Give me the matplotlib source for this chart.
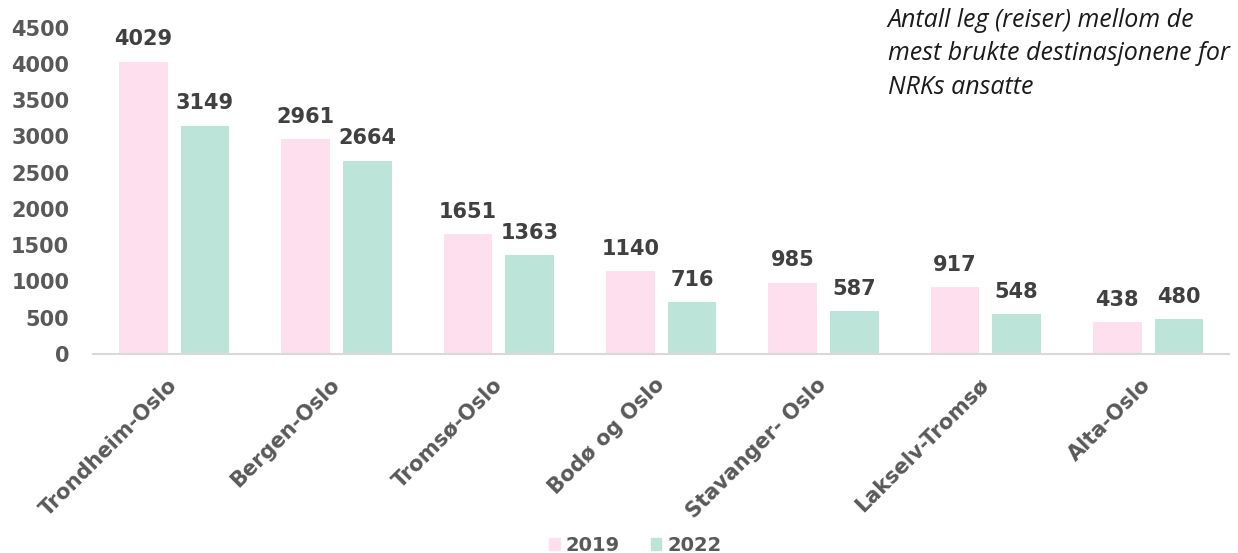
import numpy as np
from matplotlib import pyplot as plt
from matplotlib.patches import Patch

# data
routes = ['Trondheim-Oslo', 'Bergen-Oslo', 'Tromsø-Oslo', 'Bodø og Oslo',
          'Stavanger- Oslo', 'Lakselv-Tromsø', 'Alta-Oslo']
trips_2019 = [4029, 2961, 1651, 1140, 985, 917, 438]
trips_2022 = [3149, 2664, 1363, 716, 587, 548, 480]
years = ['2019', '2022']
yticks = np.arange(0, 5000, 500)

pink = '#FDDFEE'
green = '#BDE4D9'
grey = '#595959'
font = 'DejaVu Sans'

fig = plt.figure(figsize=(12.38, 5.53), dpi=100, facecolor='white')
ax = fig.add_axes([0.075, 0.36, 0.918, 0.59])

x = np.arange(len(routes))
w = 0.30
b1 = ax.bar(x - 0.19, trips_2019, width=w, color=pink)
b2 = ax.bar(x + 0.19, trips_2022, width=w, color=green)

for bars, vals in ((b1, trips_2019), (b2, trips_2022)):
    for r, v in zip(bars, vals):
        ax.text(r.get_x() + r.get_width() / 2, v + 170, str(v), ha='center', va='bottom',
                fontsize=15, fontweight='bold', color='#404040', family=font)

ax.set_xlim(-0.5, len(routes) - 0.5)
ax.set_ylim(0, 4500)
ax.set_yticks(yticks)
ax.set_yticklabels([str(v) for v in yticks], fontsize=15, fontweight='bold', color=grey, family=font)
ax.set_xticks(x)
ax.set_xticklabels(routes, rotation=45, ha='right', va='center', rotation_mode='anchor',
                   fontsize=15, fontweight='bold', color=grey, family=font)
ax.tick_params(axis='both', length=0)
ax.tick_params(axis='y', pad=17)
ax.tick_params(axis='x', pad=20)

for s in ['left', 'right', 'top']:
    ax.spines[s].set_visible(False)
ax.spines['bottom'].set_color('#D9D9D9')
ax.spines['bottom'].set_linewidth(1.5)

fig.text(0.717, 0.986, 'Antall leg (reiser) mellom de\nmest brukte destinasjonene for\nNRKs ansatte',
         ha='left', va='top', fontsize=18, style='italic', color='#1a1a1a',
         family='Open Sans', linespacing=1.45)

handles = [Patch(color=pink), Patch(color=green)]
leg = fig.legend(handles, years, loc='lower center', bbox_to_anchor=(0.513, -0.035), ncol=2,
                 frameon=False, handlelength=0.55, handleheight=0.55, columnspacing=1.6,
                 handletextpad=0.3, prop={'family': font, 'weight': 'bold', 'size': 14})
for t in leg.get_texts():
    t.set_color(grey)

plt.savefig('out.png', dpi=100, facecolor='white')
